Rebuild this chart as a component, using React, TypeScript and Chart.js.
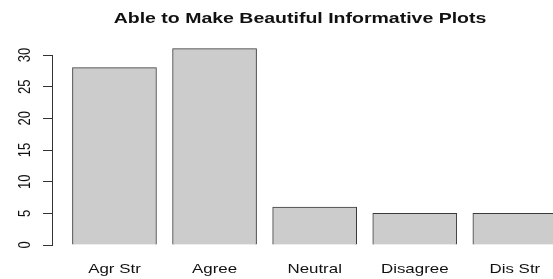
import React, { useEffect, useRef } from "react";
import { Chart, registerables } from "chart.js";

Chart.register(...registerables);

const categories = ["Agr Str", "Agree", "Neutral", "Disagree", "Dis Str"];
const counts = [28, 31, 6, 5, 5];
const yTicks = [0, 5, 10, 15, 20, 25, 30];
const titleText = "Able to Make Beautiful Informative Plots";

const SX = 1.3;
const FONT = '"Liberation Sans", Arial, Helvetica, sans-serif';

function stretchedText(
  ctx: CanvasRenderingContext2D,
  text: string,
  x: number,
  y: number,
  font: string,
  rotate: boolean
) {
  ctx.save();
  ctx.translate(x, y);
  ctx.scale(SX, 1);
  if (rotate) ctx.rotate(-Math.PI / 2);
  ctx.font = font;
  ctx.textAlign = "center";
  ctx.textBaseline = "alphabetic";
  ctx.fillStyle = "#111";
  ctx.fillText(text, 0, 0);
  ctx.restore();
}

const rTextPlugin = {
  id: "rText",
  afterDraw(chart: any) {
    const ctx: CanvasRenderingContext2D = chart.ctx;
    const y = chart.scales.y;
    const x = chart.scales.x;

    yTicks.forEach((t) => {
      const py = y.getPixelForValue(t);
      stretchedText(ctx, String(t), 30, py, `13px ${FONT}`, true);
    });

    categories.forEach((c, i) => {
      const px = x.getPixelForValue(i + 1);
      stretchedText(ctx, c, px, 273, `13px ${FONT}`, false);
    });

    stretchedText(ctx, titleText, 300, 23, `bold 15px ${FONT}`, false);
  },
};

export default function App() {
  const ref = useRef<HTMLCanvasElement>(null);
  useEffect(() => {
    if (!ref.current) return;
    const chart = new Chart(ref.current, {
      type: "bar",
      data: {
        datasets: [
          {
            data: counts.map((v, i) => ({ x: i + 1, y: v })),
            backgroundColor: "#cccccc",
            borderColor: "#3a3a3a",
            borderWidth: 1,
            barThickness: 84,
            clip: false as any,
          },
        ],
      },
      options: {
        animation: false,
        responsive: false,
        maintainAspectRatio: false,
        devicePixelRatio: 1,
        layout: { padding: { top: 55, left: 0, right: 0, bottom: 0 } },
        plugins: {
          legend: { display: false },
          tooltip: { enabled: false },
          title: { display: false },
        },
        scales: {
          x: {
            type: "linear",
            offset: false,
            min: 0.376,
            max: 5.381,
            grid: { display: false, offset: false },
            border: { display: false },
            ticks: { display: false },
            afterFit: (s: any) => {
              s.height = 34;
            },
          },
          y: {
            min: 0,
            max: 30,
            grid: {
              display: true,
              drawOnChartArea: false,
              drawTicks: true,
              tickLength: 9,
              color: "#333",
              lineWidth: 1,
            },
            border: { display: true, color: "#333", width: 1 },
            ticks: { display: false, stepSize: 5 },
            afterFit: (s: any) => {
              s.width = 52;
            },
          },
        },
      },
      plugins: [rTextPlugin],
    });
    return () => chart.destroy();
  }, []);
  return (
    <div style={{ position: "absolute", left: 0, top: 0, width: 553, height: 279, background: "#fff" }}>
      <canvas ref={ref} width={553} height={279} style={{ width: 553, height: 279 }} />
    </div>
  );
}
